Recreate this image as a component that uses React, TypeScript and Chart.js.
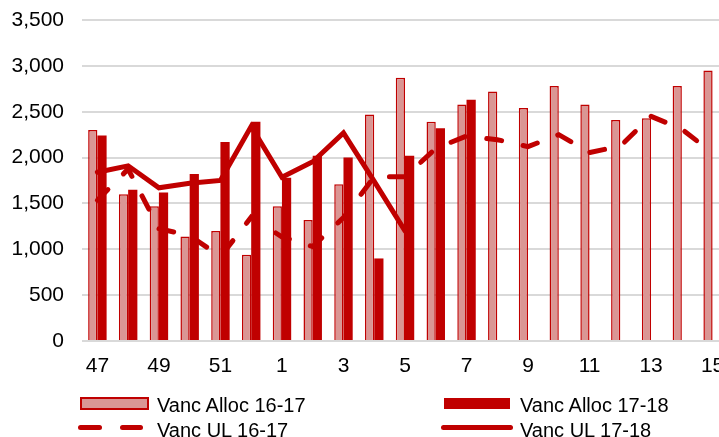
import React, { useEffect, useRef } from "react";
import { Chart, registerables } from "chart.js";

Chart.register(...registerables);

// ---- data ----
const categories = ["47", "48", "49", "50", "51", "52", "1", "2", "3", "4", "5", "6", "7", "8", "9", "10", "11", "12", "13", "14", "15"];
const allocPrev = [2300, 1600, 1470, 1140, 1200, 940, 1470, 1320, 1710, 2470, 2870, 2390, 2580, 2720, 2540, 2780, 2580, 2410, 2430, 2780, 2950];
const allocCurr = [2240, 1650, 1620, 1820, 2170, 2390, 1780, 2020, 2000, 900, 2020, 2320, 2630, null, null, null, null, null, null, null, null];
const ulPrev = [1535, 1875, 1225, 1150, 920, 1350, 1135, 1030, 1345, 1790, 1790, 2100, 2235, 2195, 2120, 2250, 2055, 2125, 2450, 2310, 2050];
const ulCurr = [1840, 1910, 1670, 1720, 1750, 2340, 1785, 1955, 2270, 1740, 1200, null, null, null, null, null, null, null, null, null, null];
const seriesNames = ["Vanc Alloc 16-17", "Vanc Alloc 17-18", "Vanc UL 16-17", "Vanc UL 17-18"];
const yMin = 0;
const yMax = 3500;
const yStep = 500;

const RED = "#c00000";
const PINK = "#da9694";
const FONT = '"Liberation Sans", Arial, sans-serif';

export default function App() {
  const ref = useRef<HTMLCanvasElement | null>(null);

  useEffect(() => {
    if (!ref.current) return;
    const chart = new Chart(ref.current, {
      type: "bar",
      data: {
        labels: categories,
        datasets: [
          {
            type: "bar",
            label: seriesNames[0],
            data: allocPrev,
            backgroundColor: PINK,
            borderColor: RED,
            borderWidth: 1.5,
            categoryPercentage: 0.6,
            barPercentage: 1.0,
            order: 1,
          },
          {
            type: "bar",
            label: seriesNames[1],
            data: allocCurr,
            backgroundColor: RED,
            borderColor: RED,
            borderWidth: 0,
            categoryPercentage: 0.6,
            barPercentage: 1.0,
            order: 1,
          },
          {
            type: "line",
            label: seriesNames[2],
            data: ulPrev,
            borderColor: RED,
            backgroundColor: RED,
            borderWidth: 5,
            borderDash: [15, 22],
            borderCapStyle: "round",
            pointRadius: 0,
            tension: 0,
            fill: false,
            order: 0,
          },
          {
            type: "line",
            label: seriesNames[3],
            data: ulCurr,
            borderColor: RED,
            backgroundColor: RED,
            borderWidth: 5,
            borderCapStyle: "round",
            pointRadius: 0,
            tension: 0,
            fill: false,
            spanGaps: false,
            order: 0,
          },
        ],
      } as any,
      options: {
        responsive: false,
        animation: false,
        devicePixelRatio: 1,
        layout: { padding: { left: 11, top: 20, right: 8, bottom: 60 } },
        plugins: { legend: { display: false }, tooltip: { enabled: false } },
        scales: {
          x: {
            grid: { display: false, drawTicks: false },
            border: { display: false },
            ticks: {
              autoSkip: false,
              maxRotation: 0,
              minRotation: 0,
              padding: 13,
              color: "#000",
              font: { family: FONT, size: 21 },
              callback: (_v: any, i: number) => (i % 2 === 0 ? categories[i] : ""),
            },
            afterFit: (s: any) => {
              s.height = 36;
              s.paddingLeft = 0;
              s.paddingRight = 0;
            },
          },
          y: {
            min: yMin,
            max: yMax,
            grid: { color: "#d9d9d9", lineWidth: 2, drawTicks: false },
            border: { display: false },
            ticks: {
              stepSize: yStep,
              padding: 18,
              color: "#000",
              font: { family: FONT, size: 21 },
              callback: (v: any) => Number(v).toLocaleString("en-US"),
            },
            afterFit: (s: any) => {
              s.width = 71;
              s.paddingTop = 0;
              s.paddingBottom = 0;
            },
          },
        },
      } as any,
    });
    return () => chart.destroy();
  }, []);

  const textStyle: React.CSSProperties = {
    position: "absolute",
    fontFamily: FONT,
    fontSize: 20,
    lineHeight: "24px",
    color: "#000",
    whiteSpace: "nowrap",
  };

  return (
    <div style={{ position: "absolute", left: 0, top: 0, width: 719, height: 437, overflow: "hidden", background: "#fff" }}>
      <canvas ref={ref} width={736} height={437} style={{ display: "block", width: 736, height: 437 }} />
      {/* legend */}
      <div style={{ position: "absolute", left: 80, top: 397, width: 69, height: 13, boxSizing: "border-box", background: PINK, border: `2px solid ${RED}` }} />
      <div style={{ ...textStyle, left: 157, top: 393 }}>{seriesNames[0]}</div>
      <div style={{ position: "absolute", left: 444, top: 398, width: 66, height: 11, background: RED }} />
      <div style={{ ...textStyle, left: 520, top: 393 }}>{seriesNames[1]}</div>
      <div style={{ position: "absolute", left: 78, top: 424.5, width: 24, height: 5.5, borderRadius: 3, background: RED }} />
      <div style={{ position: "absolute", left: 120, top: 424.5, width: 23, height: 5.5, borderRadius: 3, background: RED }} />
      <div style={{ ...textStyle, left: 157, top: 418 }}>{seriesNames[2]}</div>
      <div style={{ position: "absolute", left: 441, top: 424.5, width: 72, height: 5.5, borderRadius: 3, background: RED }} />
      <div style={{ ...textStyle, left: 520, top: 418 }}>{seriesNames[3]}</div>
    </div>
  );
}
